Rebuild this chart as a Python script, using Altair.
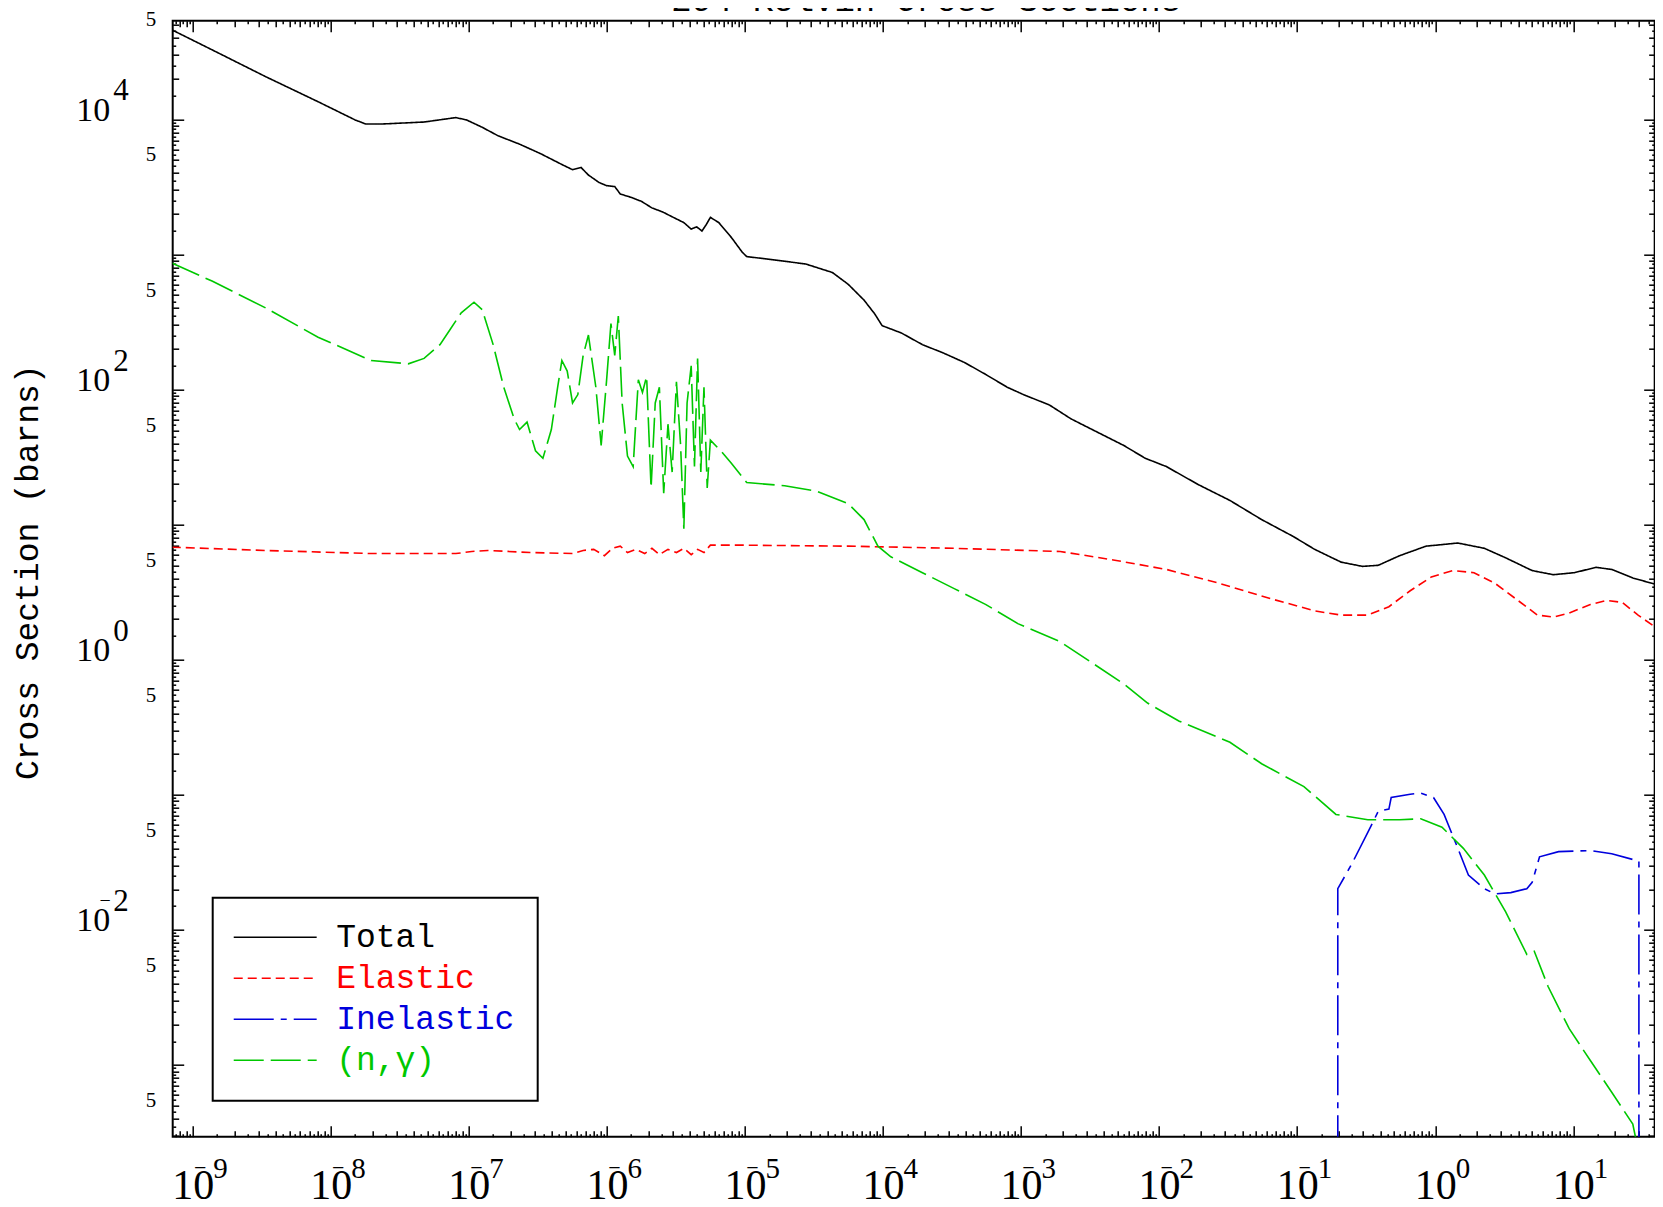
import altair as alt
import pandas as pd

# ---------------- data (energy, cross section) ----------------
total_E = [7.05e-10, 1.38e-9, 3.34e-9, 8.09e-9, 1.50e-8, 1.79e-8, 2.34e-8, 4.74e-8, 8.05e-8, 9.62e-8,
           1.25e-7, 1.63e-7, 2.33e-7, 3.32e-7, 4.72e-7, 5.64e-7, 6.50e-7, 7.35e-7, 8.77e-7, 9.93e-7,
           1.14e-6, 1.25e-6, 1.49e-6, 1.78e-6, 2.12e-6, 2.54e-6, 3.03e-6, 3.61e-6, 4.08e-6, 4.47e-6,
           4.88e-6, 5.24e-6, 5.62e-6, 6.47e-6, 8.0e-6, 9.55e-6, 1.03e-5, 1.62e-5, 2.76e-5, 4.30e-5,
           5.60e-5, 7.29e-5, 8.71e-5, 9.86e-5, 1.36e-4, 1.93e-4, 2.75e-4, 3.92e-4, 5.57e-4, 7.94e-4,
           1.04e-3, 1.61e-3, 2.30e-3, 3.27e-3, 5.56e-3, 7.93e-3, 1.13e-2, 1.92e-2, 3.26e-2, 5.53e-2,
           9.42e-2, 0.134, 0.208, 0.297, 0.387, 0.552, 0.859, 1.46, 2.27, 3.24,
           5.04, 7.18, 10.2, 14.6, 19.0, 27.0, 42.1]
total_S = [4.60e4, 3.27e4, 2.08e4, 1.35e4, 9.9e3, 9.23e3, 9.23e3, 9.55e3, 1.03e4, 9.9e3,
           8.73e3, 7.55e3, 6.55e3, 5.56e3, 4.63e3, 4.24e3, 4.40e3, 3.87e3, 3.41e3, 3.23e3,
           3.18e3, 2.80e3, 2.65e3, 2.47e3, 2.21e3, 2.06e3, 1.88e3, 1.72e3, 1.54e3, 1.60e3,
           1.49e3, 1.66e3, 1.88e3, 1.72e3, 1.33e3, 1.04e3, 964, 912, 849, 735,
           601, 459, 363, 297, 262, 215, 186, 158, 129, 104,
           91.8, 76.7, 60.7, 50.6, 38.5, 31.0, 26.9, 19.8, 15.1, 10.9,
           8.15, 6.56, 5.28, 4.91, 5.0, 5.89, 6.93, 7.31, 6.68, 5.68,
           4.57, 4.26, 4.41, 4.83, 4.66, 4.03, 3.55]

elastic_E = [7.05e-10, 3.34e-9, 1.96e-8, 8.05e-8, 1.05e-7, 1.37e-7, 2.78e-7, 5.64e-7, 6.73e-7, 8.03e-7,
             9.59e-7, 1.10e-6, 1.25e-6, 1.41e-6, 1.63e-6, 1.88e-6, 2.12e-6, 2.40e-6, 2.77e-6, 3.19e-6,
             3.61e-6, 4.08e-6, 4.54e-6, 5.05e-6, 5.62e-6, 9.55e-6, 5.60e-5, 3.28e-4, 1.92e-3, 4.66e-3,
             1.13e-2, 2.73e-2, 6.61e-2, 0.134, 0.208, 0.325, 0.462, 0.659, 0.938, 1.34,
             1.91, 2.71, 3.86, 5.51, 7.18, 9.35, 13.3, 17.4, 22.6, 29.5, 42.1]
elastic_S = [6.81, 6.44, 6.11, 6.11, 6.33, 6.44, 6.22, 6.11, 6.44, 6.56,
             5.89, 6.68, 6.93, 6.22, 6.56, 6.11, 6.68, 6.0, 6.56, 6.22,
             6.68, 6.0, 6.56, 6.22, 7.05, 7.05, 6.93, 6.68, 6.33, 5.48,
             4.66, 3.68, 2.81, 2.30, 2.14, 2.14, 2.47, 3.24, 4.10, 4.57,
             4.41, 3.68, 2.81, 2.14, 2.07, 2.22, 2.56, 2.75, 2.66, 2.14, 1.66]

inelastic_E = [0.197, 0.197, 0.248, 0.325, 0.387, 0.462, 0.480, 0.659, 0.786, 0.972,
               1.16, 1.46, 1.74, 2.27, 2.71, 3.53, 4.61, 5.04, 5.70, 7.83,
               13.3, 19.0, 29.9, 29.9]
inelastic_S = [1e-5, 0.0202, 0.0306, 0.0527, 0.0756, 0.0784, 0.0956, 0.101, 0.103, 0.0956,
               0.0716, 0.0402, 0.0255, 0.0202, 0.0185, 0.0189, 0.0202, 0.0225, 0.0348, 0.0380,
               0.0387, 0.0367, 0.0323, 1e-5]

ngamma_E = [7.05e-10, 1.38e-9, 3.34e-9, 8.09e-9, 1.96e-8, 3.64e-8, 4.74e-8, 6.18e-8, 7.38e-8, 8.81e-8,
            1.09e-7, 1.25e-7, 1.50e-7, 1.79e-7, 2.13e-7, 2.33e-7, 2.64e-7, 3.04e-7, 3.44e-7, 3.96e-7,
            4.40e-7, 4.72e-7, 5.16e-7, 5.64e-7, 6.16e-7, 6.73e-7, 7.35e-7, 8.32e-7, 9.09e-7, 9.93e-7,
            1.07e-6, 1.14e-6, 1.21e-6, 1.29e-6, 1.41e-6, 1.55e-6, 1.69e-6, 1.81e-6, 1.94e-6, 2.09e-6,
            2.24e-6, 2.40e-6, 2.58e-6, 2.77e-6, 2.97e-6, 3.19e-6, 3.42e-6, 3.61e-6, 3.81e-6, 4.08e-6,
            4.31e-6, 4.54e-6, 4.79e-6, 5.05e-6, 5.33e-6, 5.62e-6, 6.68e-6, 8.0e-6, 1.03e-5, 1.94e-5,
            3.29e-5, 5.60e-5, 7.29e-5, 9.19e-5, 1.14e-4, 1.93e-4, 3.28e-4, 5.57e-4, 9.48e-4, 1.92e-3,
            3.27e-3, 5.56e-3, 8.25e-3, 1.40e-2, 3.26e-2, 5.53e-2, 0.112, 0.191, 0.325, 0.552,
            0.786, 1.12, 1.60, 2.27, 3.24, 4.61, 5.22, 6.56, 9.35, 13.3,
            19.0, 27.0, 29.9]
ngamma_S = [864, 635, 404, 244, 164, 155, 170, 215, 282, 370,
            443, 390, 215, 104, 60.6, 50.6, 57.4, 35.2, 31.0, 50.6,
            104, 164, 137, 79.5, 91.8, 179, 253, 104, 38.6, 114,
            308, 179, 350, 79.5, 32.2, 26.9, 118, 95.2, 125, 18.7,
            79.5, 104, 17.1, 55.4, 24.5, 114, 38.6, 9.33, 79.5, 150,
            26.9, 170, 24.5, 104, 18.7, 42.2, 35.2, 28.4, 20.5, 19.4,
            17.7, 14.3, 10.9, 6.93, 5.78, 4.41, 3.36, 2.56, 1.85, 1.36,
            0.949, 0.661, 0.478, 0.351, 0.245, 0.170, 0.115, 0.0716, 0.0654, 0.0654,
            0.0666, 0.0576, 0.0402, 0.0255, 0.0136, 6.59e-3, 6.95e-3, 3.83e-3, 1.86e-3, 1.08e-3,
            6.29e-4, 3.66e-4, 2.2e-4]

SERIES = ["Total", "Elastic", "Inelastic", "(n,γ)"]
COLORS = ["#000000", "#ff0000", "#0000dd", "#00c800"]
DASHES = [[1, 0], [9, 5], [40, 7, 6, 7], [30, 7]]

X_DOMAIN = [7.16e-10, 38.9]
Y_DOMAIN = [2.95e-4, 5.37e4]
W, H = 1482, 1116

rows = []
for name, E, S in zip(SERIES, [total_E, elastic_E, inelastic_E, ngamma_E],
                      [total_S, elastic_S, inelastic_S, ngamma_S]):
    for i, (e, s) in enumerate(zip(E, S)):
        rows.append({"series": name, "E": e, "sigma": s, "idx": i})
df = pd.DataFrame(rows)
frame = pd.DataFrame({"E": [1.0], "sigma": [1.0]})


def inside(v, dom):
    return dom[0] * 0.9999 <= v <= dom[1] * 1.0001


x_major = [10.0 ** d for d in range(-9, 2)]
x_int = [k * 10.0 ** d for d in range(-10, 2) for k in range(2, 10) if inside(k * 10.0 ** d, X_DOMAIN)]
x_half = [(k + 0.5) * 10.0 ** d for d in range(-10, 2) for k in range(1, 10)
          if inside((k + 0.5) * 10.0 ** d, X_DOMAIN)]
x_neg = [10.0 ** d for d in range(-9, 0)]

y_major = [10.0 ** d for d in range(-3, 5)]
y_int = [k * 10.0 ** d for d in range(-4, 5) for k in range(2, 10) if inside(k * 10.0 ** d, Y_DOMAIN)]
y_half = [(k + 0.5) * 10.0 ** d for d in range(-4, 5) for k in range(1, 10)
          if inside((k + 0.5) * 10.0 ** d, Y_DOMAIN)]
y_dec_labels = [1e4, 1e2, 1.0, 1e-2]
y_neg = [1e-2]
y_fives = [5 * 10.0 ** d for d in range(-4, 5)]

xscale = alt.Scale(type="log", domain=X_DOMAIN, nice=False)
yscale = alt.Scale(type="log", domain=Y_DOMAIN, nice=False)

SERIF = "Liberation Serif"
MONO = "Liberation Mono"
EXP = "'' + abs(round(log(datum.value) / LN10))"


def tick_axis(orient, values, size, **kw):
    args = dict(orient=orient, values=values, tickSize={"expr": str(-size)}, tickWidth=1.5,
                tickColor="black", labels=False, domain=False, grid=False, title=None)
    args.update(kw)
    return alt.Axis(**args)


def label_axis(orient, values, expr, size, align, baseline, padding, offset):
    return alt.Axis(orient=orient, values=values, labelExpr=expr, labelFont=SERIF,
                    labelFontSize=size, labelAlign=align, labelBaseline=baseline,
                    labelPadding=padding, labelOffset=offset, ticks=False, domain=False,
                    grid=False, title=None, labelOverlap=False, labelFlush=False,
                    labelBound=False, labelColor="black")


def axis_layer(xaxis, yaxis):
    return alt.Chart(frame).mark_point(opacity=0).encode(
        x=alt.X("E:Q", scale=xscale, axis=xaxis),
        y=alt.Y("sigma:Q", scale=yscale, axis=yaxis),
    )


label_color = ("datum.label == 'Total' ? '#000000' : datum.label == 'Elastic' ? '#ff0000' : "
               "datum.label == 'Inelastic' ? '#0000dd' : '#00c800'")
leg = alt.Legend(title=None, orient="none", legendX=40, legendY=877, direction="vertical",
                 fillColor="white", strokeColor="black", padding=23,
                 symbolType="M-4,0H4", symbolSize=430, symbolOffset=23, symbolStrokeWidth=1.6,
                 labelFont=MONO, labelFontSize=33, labelColor={"expr": label_color},
                 labelOffset=44.5, rowPadding=7, labelLimit=0)

lines = alt.Chart(df).mark_line(clip=True, strokeWidth=1.6).encode(
    x=alt.X("E:Q", scale=xscale, axis=tick_axis("bottom", x_major, 11)),
    y=alt.Y("sigma:Q", scale=yscale, axis=tick_axis(
        "left", y_major, 11, title="Cross Section (barns)", titleFont=MONO, titleFontSize=33,
        titleFontWeight="normal", titleColor="black", titleX=-135, titleY=551, titleAngle=270,
        titleAlign="center", titleBaseline="alphabetic")),
    color=alt.Color("series:N", scale=alt.Scale(domain=SERIES, range=COLORS), legend=leg),
    strokeDash=alt.StrokeDash("series:N", scale=alt.Scale(domain=SERIES, range=DASHES), legend=leg),
    order="idx:Q",
)

layers = [
    lines,
    axis_layer(tick_axis("bottom", x_int, 6), tick_axis("left", y_int, 6)),
    axis_layer(tick_axis("bottom", x_half, 3), tick_axis("left", y_half, 3)),
    axis_layer(tick_axis("top", x_major, 11, title="294 Kelvin Cross Sections", titleFont=MONO,
                         titleFontSize=34, titleFontWeight="normal", titleColor="black",
                         titleX=753, titleY=-10, titleAngle=0, titleAlign="center",
                         titleBaseline="alphabetic"),
               tick_axis("right", y_major, 11)),
    axis_layer(tick_axis("top", x_int, 6), tick_axis("right", y_int, 6)),
    axis_layer(tick_axis("top", x_half, 3), tick_axis("right", y_half, 3)),
    axis_layer(label_axis("bottom", x_major, "'10'", 42, "center", "alphabetic", 62, 0),
               label_axis("left", y_dec_labels, "'10'", 34, "right", "alphabetic", 63, 1)),
    axis_layer(label_axis("bottom", x_neg, "'−'", 22, "center", "alphabetic", 38, 7),
               label_axis("left", y_neg, "'−'", 20, "center", "alphabetic", 68, -23)),
    axis_layer(label_axis("bottom", x_major, EXP, 29, "left", "alphabetic", 41, 20),
               label_axis("left", y_dec_labels, EXP, 31, "left", "alphabetic", 60, -19.5)),
    axis_layer(None, label_axis("left", y_fives, "'5'", 21, "right", "alphabetic", 17, 1)),
]

chart = alt.layer(*layers).resolve_axis(x="independent", y="independent").properties(
    width=W, height=H,
    padding={"left": 164.7, "top": 12.7, "right": 0, "bottom": 62},
    autosize=alt.AutoSizeParams(type="none"),
).configure_view(stroke="black", strokeWidth=2).configure_legend(strokeWidth=2)

chart.save("out.html", embed_options={"renderer": "svg", "actions": False})
